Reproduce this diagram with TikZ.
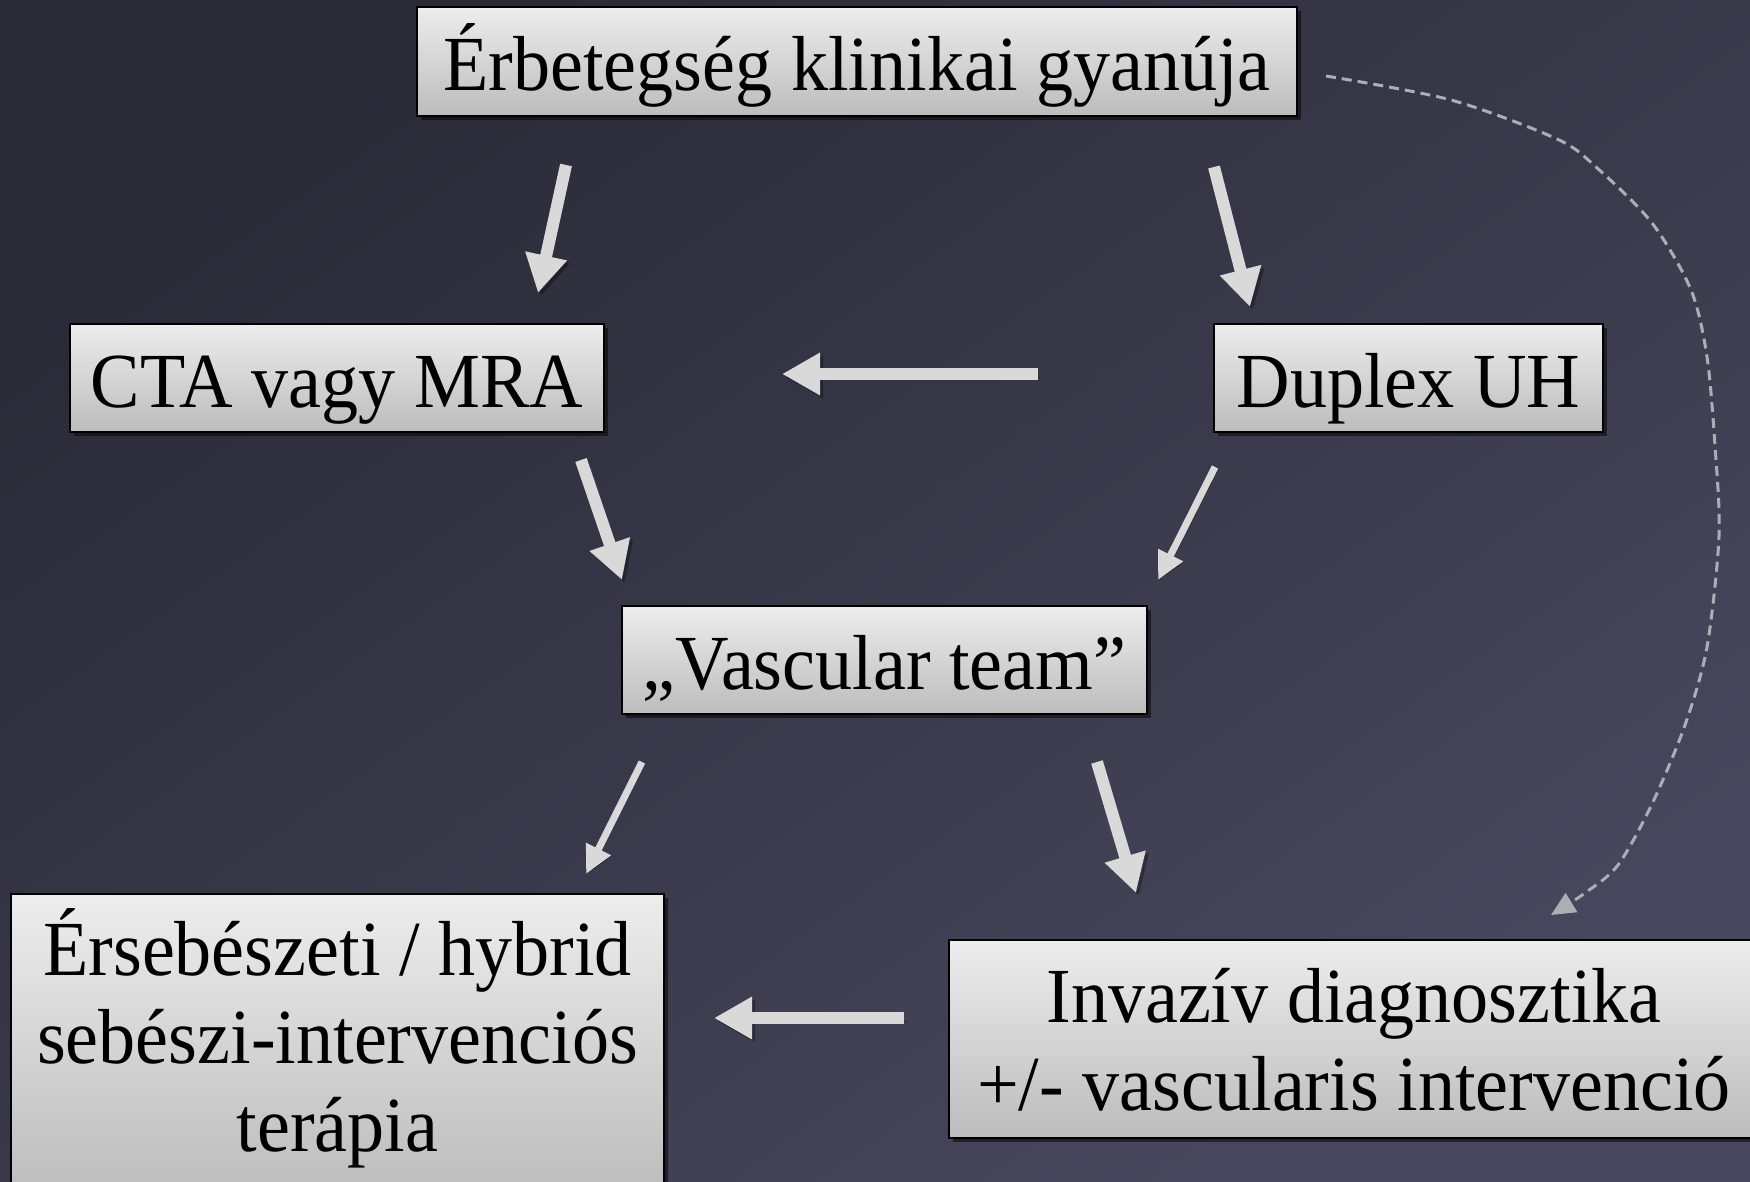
\documentclass[tikz,border=0pt]{standalone}
\usepackage{fontspec}
\setmainfont{Liberation Serif}[FakeStretch=0.95]
\usetikzlibrary{arrows.meta,shadows}
\definecolor{bgA}{HTML}{2A2A37}
\definecolor{bgB}{HTML}{48475D}
\definecolor{boxTop}{HTML}{EDEDED}
\definecolor{boxBot}{HTML}{BCBCBC}
\definecolor{arrowc}{HTML}{D9D9D9}
\definecolor{dashc}{HTML}{ADADB6}
\begin{document}
\begin{tikzpicture}[x=1pt,y=-1pt,
  box/.style={draw=black, line width=2pt, top color=boxTop, bottom color=boxBot,
    inner sep=0pt, align=center, font=\fontsize{78}{88}\selectfont,
    drop shadow={shadow xshift=4pt, shadow yshift=-4pt, opacity=0.5, fill=black}},
  bigarrow/.style={draw=arrowc, line width=12pt,
    -{Triangle[width=40pt, length=38pt]},
    preaction={draw=black, opacity=0.3, transform canvas={xshift=3pt, yshift=-3pt}}},
  thinarrow/.style={draw=arrowc, line width=7pt,
    -{Triangle[width=26pt, length=28pt]},
    preaction={draw=black, opacity=0.3, transform canvas={xshift=3pt, yshift=-3pt}}},
  dasharrow/.style={draw=dashc, line width=3pt, dash pattern=on 10pt off 6pt,
    -{Triangle[width=22pt, length=24pt]}}
]
\useasboundingbox (0,0) rectangle (1750,1182);
\clip (0,0) rectangle (1750,1182);
\shade[top color=bgA, bottom color=bgB, shading angle=35] (0,0) rectangle (1750,1182);

% boxes
\node[box, minimum width=880pt, minimum height=109pt, text height=58pt, text depth=0pt]
  (top) at (857,61.5) {Érbetegség klinikai gyanúja};
\node[box, minimum width=534pt, minimum height=108pt, text height=58pt, text depth=0pt]
  (cta) at (337,378) {CTA vagy MRA};
\node[box, minimum width=389pt, minimum height=108pt, text height=58pt, text depth=0pt]
  (duplex) at (1408.5,378) {Duplex UH};
\node[box, minimum width=525pt, minimum height=108pt, text height=58pt, text depth=0pt]
  (vt) at (884.5,660) {„Vascular team”};
\node[box, minimum width=653pt, minimum height=302pt, text height=230pt, text depth=17pt]
  (surg) at (337.5,1045) {Érsebészeti / hybrid\\sebészi-intervenciós\\terápia};
\node[box, minimum width=811pt, minimum height=198pt, text height=152pt, text depth=10pt]
  (inv) at (1354,1039) {Invazív diagnosztika\\+/- vascularis intervenció};

% arrow end points
\coordinate (a1s) at (566,165);  \coordinate (a1e) at (538,293);
\coordinate (a2s) at (1214,167); \coordinate (a2e) at (1250,307);
\coordinate (a3s) at (1038,374); \coordinate (a3e) at (782,374);
\coordinate (a4s) at (581,460);  \coordinate (a4e) at (622,580);
\coordinate (a5s) at (1215,467); \coordinate (a5e) at (1158,580);
\coordinate (a6s) at (642,762);  \coordinate (a6e) at (586,874);
\coordinate (a7s) at (1097,762); \coordinate (a7e) at (1136,893);
\coordinate (a8s) at (904,1018); \coordinate (a8e) at (714,1018);
\coordinate (d0) at (1326,76);   \coordinate (d1) at (1551,915);

\draw[bigarrow] (a1s) -- (a1e);
\draw[bigarrow] (a2s) -- (a2e);
\draw[bigarrow] (a3s) -- (a3e);
\draw[bigarrow] (a4s) -- (a4e);
\draw[thinarrow] (a5s) -- (a5e);
\draw[thinarrow] (a6s) -- (a6e);
\draw[bigarrow] (a7s) -- (a7e);
\draw[bigarrow] (a8s) -- (a8e);

\draw[dasharrow] plot[smooth, tension=0.5] coordinates {(d0) (1451,100) (1557,139) (1596,167) (1652,223) (1691,290) (1707,357) (1715,446) (1719,536) (1707,647) (1685,725) (1652,804) (1618,865) (1585,893) (d1)};
\end{tikzpicture}
\end{document}
